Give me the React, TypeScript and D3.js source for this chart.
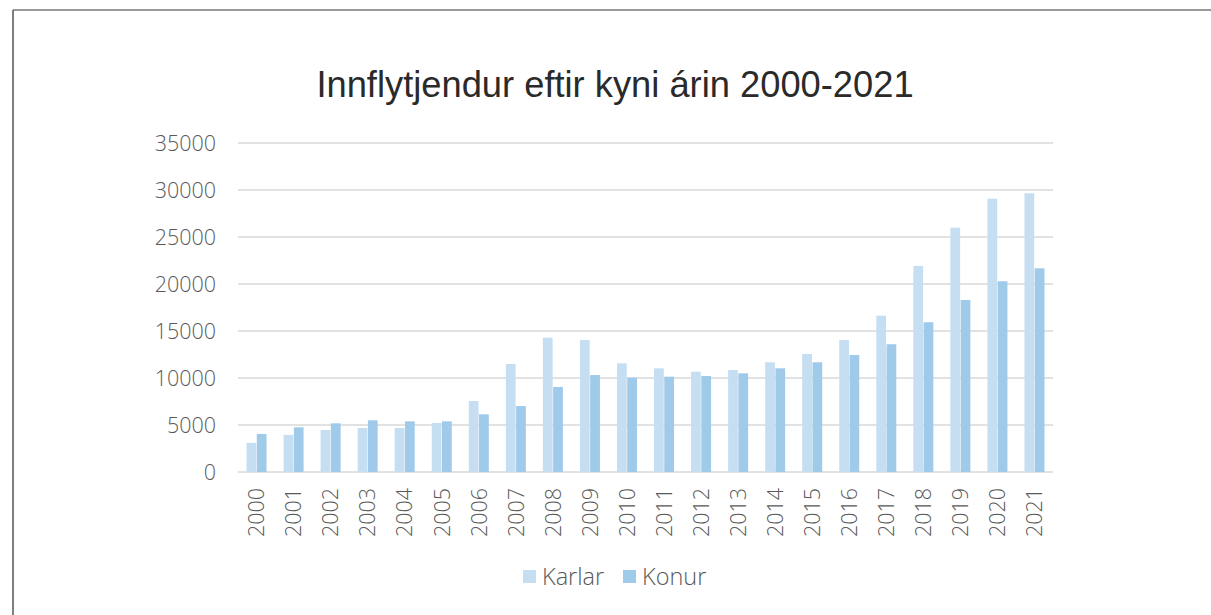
import React from "react";
import * as d3 from "d3";

const years = ["2000","2001","2002","2003","2004","2005","2006","2007","2008","2009","2010","2011","2012","2013","2014","2015","2016","2017","2018","2019","2020","2021"];
const karlar = [3100,3950,4470,4680,4680,5210,7550,11490,14290,14040,11560,11030,10670,10850,11670,12550,14040,16630,21920,25990,29080,29650];
const konur = [4050,4750,5180,5500,5390,5390,6140,7020,9040,10320,10030,10140,10210,10500,11030,11670,12450,13590,15930,18300,20290,21670];
const yTicks = [0,5000,10000,15000,20000,25000,30000,35000];
const seriesNames = ["Karlar","Konur"];
const seriesColors = ["#c6def2","#9fcaea"];
const title = "Innflytjendur eftir kyni árin 2000-2021";

const W = 1211, H = 615;
const left = 238, right = 1053, top = 143, bottom = 472;

export default function App() {
  React.useEffect(() => { document.body.style.margin = "0"; }, []);
  const x0 = d3.scaleBand<string>().domain(years).range([left, right]).paddingInner(0.46).paddingOuter(0.23);
  const x1 = d3.scaleBand<string>().domain(seriesNames).range([0, x0.bandwidth()]).paddingInner(0.05);
  const y = d3.scaleLinear().domain([0, 35000]).range([bottom, top]);
  const series = [karlar, konur];
  const font = "'Open Sans', 'DejaVu Sans', sans-serif";
  return (
    <svg width={W} height={H} style={{ display: "block" }}>
      <rect x={0} y={0} width={W} height={H} fill="#fff" />
      <line x1={13} y1={10} x2={W} y2={10} stroke="#777" strokeWidth={1.5} />
      <line x1={13} y1={10} x2={13} y2={H} stroke="#555" strokeWidth={1.5} />
      <text x={615} y={97} textAnchor="middle" fontFamily="'Liberation Sans', Arial, sans-serif" fontSize={36.3} fill="#2a2a2a">{title}</text>
      {yTicks.map(t => (
        <g key={t}>
          <line x1={left} x2={right} y1={y(t)} y2={y(t)} stroke="#d9d9d9" strokeWidth={1.5} />
          <text x={216} y={y(t)} dy="0.36em" textAnchor="end" fontFamily={font} fontWeight={300} fontSize={21.5} fill="#595959">{t}</text>
        </g>
      ))}
      {years.map((yr, i) => (
        <g key={yr} transform={`translate(${x0(yr)},0)`}>
          {series.map((s, j) => (
            <rect key={j} x={x1(seriesNames[j])} y={y(s[i])} width={x1.bandwidth()} height={y(0) - y(s[i])} fill={seriesColors[j]} />
          ))}
        </g>
      ))}
      {years.map(yr => {
        const cx = (x0(yr) as number) + x0.bandwidth() / 2;
        return (
          <text key={yr} transform={`translate(${cx},488) rotate(-90)`} dy="0.36em" textAnchor="end" fontFamily={font} fontWeight={300} fontSize={21.5} fill="#595959">{yr}</text>
        );
      })}
      {seriesNames.map((n, j) => {
        const lx = j === 0 ? 523 : 623;
        return (
          <g key={n}>
            <rect x={lx} y={570} width={13} height={13} fill={seriesColors[j]} />
            <text x={lx + 19} y={577} dy="0.36em" fontFamily={font} fontWeight={300} fontSize={23.5} fill="#595959">{n}</text>
          </g>
        );
      })}
    </svg>
  );
}
